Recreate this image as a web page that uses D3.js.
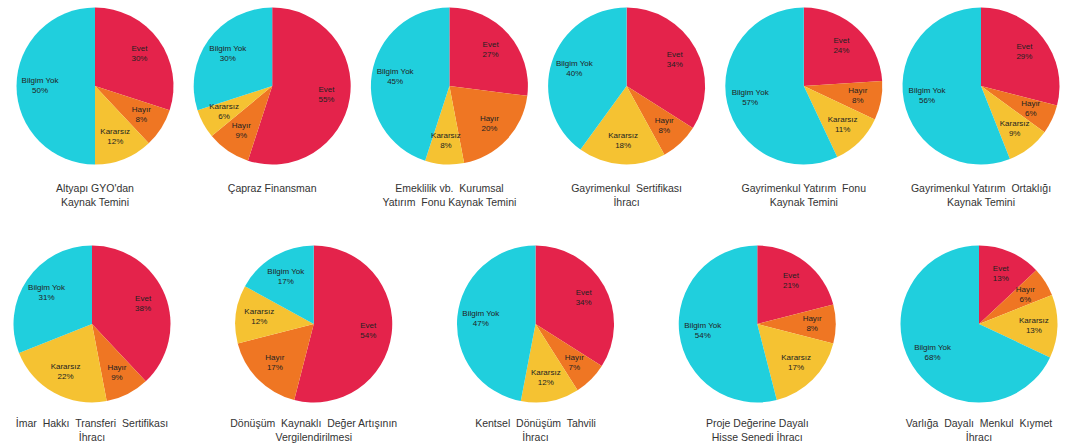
<!DOCTYPE html>
<html>
<head>
<meta charset="utf-8">
<script src="https://cdn.jsdelivr.net/npm/d3@7"></script>
<style>
  html, body { margin: 0; padding: 0; background: #fff; }
  svg { display: block; }
  text { font-family: "Liberation Sans", Arial, sans-serif; }
</style>
</head>
<body>
<svg id="chart" width="1070" height="448"></svg>
<script>
// ---- data ----
const titles = [
  ["Altyapı GYO'dan", "Kaynak Temini"],
  ["Çapraz Finansman"],
  ["Emeklilik vb.  Kurumsal", "Yatırım  Fonu Kaynak Temini"],
  ["Gayrimenkul  Sertifikası", "İhracı"],
  ["Gayrimenkul Yatırım  Fonu", "Kaynak Temini"],
  ["Gayrimenkul Yatırım  Ortaklığı", "Kaynak Temini"],
  ["İmar  Hakkı  Transferi  Sertifikası", "İhracı"],
  ["Dönüşüm  Kaynaklı  Değer Artışının", "Vergilendirilmesi"],
  ["Kentsel  Dönüşüm  Tahvili", "İhracı"],
  ["Proje Değerine Dayalı", "Hisse Senedi İhracı"],
  ["Varlığa  Dayalı  Menkul  Kıymet", "İhracı"]
];
const answers = ["Evet", "Hayır", "Kararsız", "Bilgim Yok"];
const labelNames = ["Evet", "Hayır", "Kararsız", "Bilgim Yok"];
const evet      = [30, 55, 27, 34, 24, 29, 38, 54, 34, 21, 13];
const hayir     = [ 8,  9, 20,  8,  8,  6,  9, 17,  7,  8,  6];
const kararsiz  = [12,  6,  8, 18, 11,  9, 22, 12, 12, 17, 13];
const bilgimYok = [50, 30, 45, 40, 57, 56, 31, 17, 47, 54, 68];
const colors = ["#E4234B", "#EF7623", "#F5C232", "#20CFDD"];

// ---- layout ----
const svg = d3.select("#chart");
const R = 78.5;
const row1 = d3.scalePoint().domain(d3.range(6)).range([95, 981]);
const row2 = d3.scalePoint().domain(d3.range(5)).range([92, 979]);
const color = d3.scaleOrdinal().domain(answers).range(colors);

const pie = d3.pie().sort(null).value(d => d.value);
const arc = d3.arc().innerRadius(0).outerRadius(R);
const labelArc = d3.arc().innerRadius(R * 0.7).outerRadius(R * 0.7);

titles.forEach((t, i) => {
  const first = i < 6;
  const cx = first ? row1(i) : row2(i - 6);
  const cy = first ? 86 : 324;
  const ty = first ? 192 : 427;
  const vals = [evet[i], hayir[i], kararsiz[i], bilgimYok[i]];
  const data = answers.map((a, k) => ({ key: a, label: labelNames[k], value: vals[k] }));

  const g = svg.append("g").attr("transform", `translate(${cx},${cy})`);
  const arcs = pie(data);
  g.selectAll("path").data(arcs).join("path")
    .attr("d", arc)
    .attr("fill", d => color(d.data.key));

  const lbl = g.selectAll("text.lbl").data(arcs).join("text")
    .attr("class", "lbl")
    .attr("transform", d => `translate(${labelArc.centroid(d)})`)
    .attr("text-anchor", "middle")
    .attr("font-size", 8)
    .attr("fill", "#222");
  lbl.append("tspan").attr("x", 0).attr("y", -3).text(d => d.data.label);
  lbl.append("tspan").attr("x", 0).attr("y", 7).text(d => d.data.value + "%");

  const tt = svg.append("text")
    .attr("x", cx).attr("y", ty)
    .attr("text-anchor", "middle")
    .attr("font-size", 10.5)
    .attr("fill", "#333")
    .style("white-space", "pre");
  t.forEach((line, j) => {
    tt.append("tspan").attr("x", cx).attr("dy", j === 0 ? 0 : 14).text(line);
  });
});
</script>
</body>
</html>
